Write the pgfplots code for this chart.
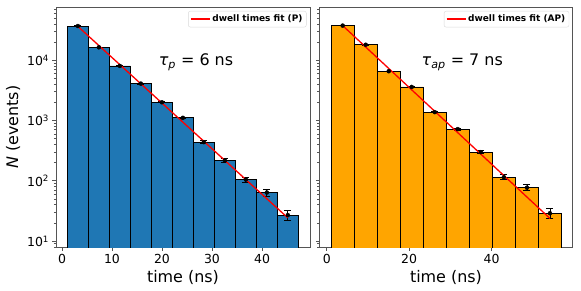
\documentclass[border=0pt]{standalone}
\usepackage{fontspec}
\setmainfont{DejaVu Sans}
\usepackage{pgfplots}
\pgfplotsset{compat=1.18}
\definecolor{tabblue}{HTML}{1F77B4}
\definecolor{orng}{HTML}{FFA500}
\definecolor{framegray}{HTML}{555555}
\begin{document}
\begin{tikzpicture}
\path (0bp,0bp) rectangle (581bp,291bp);
\pgfplotsset{
  every axis/.append style={
    scale only axis, ymode=log, ymin=7.9, ymax=76500,
    axis line style={framegray, line width=0.8bp},
    tick align=outside, tick pos=left,
    major tick length=3.5bp, minor tick length=2bp,
    every tick/.style={framegray, line width=0.8bp},
    ticklabel style={font=\fontsize{12.5}{14}\selectfont},
    /pgf/number format/assume math mode=true,
    ytick={10,100,1000,10000},
    minor ytick={8,9,20,30,40,50,60,70,80,90,200,300,400,500,600,700,800,900,2000,3000,4000,5000,6000,7000,8000,9000,20000,30000,40000,50000,60000,70000},
    label style={font=\fontsize{16}{18}\selectfont},
    legend cell align=left,
    legend image code/.code={\draw[#1] (0bp,0bp) -- (19bp,0bp);},
    legend style={at={(1,1)}, anchor=north east, xshift=-3.5bp, yshift=-4bp,
      draw=gray!30, rounded corners=2bp, fill=white, fill opacity=0.8, text opacity=1,
      font=\bfseries\fontsize{9}{10.5}\selectfont, inner sep=1.8bp},
    error bars/error mark=|,
    error bars/error mark options={black, mark size=3.5bp, line width=0.8bp},
    error bars/error bar style={black, line width=0.8bp},
  }
}
\begin{axis}[at={(56bp,43.7bp)}, anchor=south west, width=254bp, height=240.3bp,
  xmin=-1.2, xmax=49.6, xtick={0,10,20,30,40},
  xlabel={time (ns)}, ylabel={{\itshape N} (events)},
  yticklabels={10\textsuperscript{1},10\textsuperscript{2},10\textsuperscript{3},10\textsuperscript{4}}]
\addplot[ybar interval, fill=tabblue, draw=black, line width=0.8bp, forget plot] coordinates {
(1.07,37000) (5.27,16400) (9.47,8050) (13.67,4100) (17.87,2010) (22.07,1110)
(26.27,439) (30.47,217) (34.67,105) (38.87,64) (43.07,27) (47.27,27)};
\addplot[black, only marks, mark=none, forget plot, error bars/.cd, y dir=both, y explicit] coordinates {
(3.17,37000) +- (0,192) (7.37,16400) +- (0,128) (11.57,8050) +- (0,90)
(15.77,4100) +- (0,64) (19.97,2010) +- (0,45) (24.17,1110) +- (0,33)
(28.37,439) +- (0,21) (32.57,217) +- (0,14.7) (36.77,105) +- (0,10.2)
(40.97,64) +- (0,8) (45.17,27) +- (0,5.2)};
\addplot[red, line width=1.3bp] coordinates {(3.17,36500) (45.17,24.3)};
\addlegendentry{dwell times fit (P)}
\node[font=\fontsize{16}{18}\selectfont] at (26.8,9300) {{\itshape τ}\textsubscript{\itshape p} = 6 ns};
\end{axis}
\begin{axis}[at={(319.3bp,43.7bp)}, anchor=south west, width=253.4bp, height=240.3bp,
  xmin=-1.8, xmax=59.7, xtick={0,20,40},
  xlabel={time (ns)}, yticklabels={}]
\addplot[ybar interval, fill=orng, draw=black, line width=0.8bp, forget plot] coordinates {
(1.07,37600) (6.66,18100) (12.25,6580) (17.84,3610) (23.43,1380) (29.02,721)
(34.61,299) (40.20,115) (45.79,77) (51.38,29) (56.97,29)};
\addplot[black, only marks, mark=none, forget plot, error bars/.cd, y dir=both, y explicit] coordinates {
(3.865,37600) +- (0,194) (9.455,18100) +- (0,135) (15.045,6580) +- (0,81)
(20.635,3610) +- (0,60) (26.225,1380) +- (0,37) (31.815,721) +- (0,27)
(37.405,299) +- (0,17.3) (42.995,115) +- (0,10.7) (48.585,77) +- (0,8.8)
(54.175,29) +- (0,5.4)};
\addplot[red, line width=1.3bp] coordinates {(3.865,37600) (54.175,23.8)};
\addlegendentry{dwell times fit (AP)}
\node[font=\fontsize{16}{18}\selectfont] at (32.9,9300) {{\itshape τ}\textsubscript{\itshape ap} = 7 ns};
\end{axis}
\end{tikzpicture}
\end{document}
